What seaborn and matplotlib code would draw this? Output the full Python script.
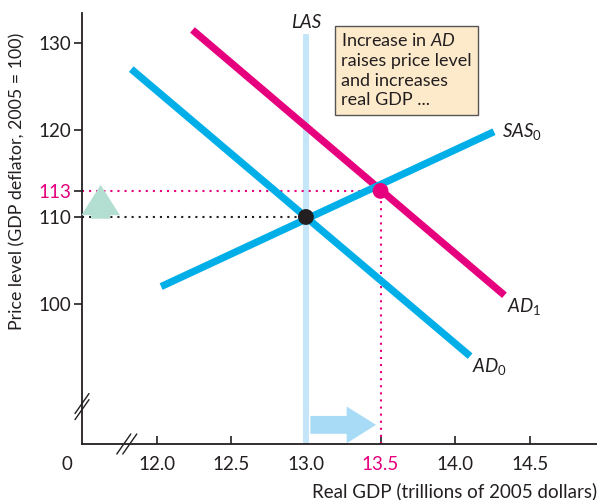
import matplotlib
matplotlib.use('Agg')
import matplotlib.pyplot as plt
import seaborn as sns
import pandas as pd

# ---------------- data ----------------
ad0_gdp = [11.83, 14.10]
ad0_price = [127.0, 94.0]
ad1_gdp = [12.24, 14.33]
ad1_price = [131.5, 101.0]
sas0_gdp = [12.03, 14.26]
sas0_price = [102.0, 119.8]
las_gdp = [13.0, 13.0]
las_price = [83.9, 131.0]
eq_gdp = [13.0, 13.5]
eq_price = [110.0, 113.0]
eq_names = ['E0', 'E1']
xtick_vals = [12.0, 12.5, 13.0, 13.5, 14.0, 14.5]
xtick_labels = ['12.0', '12.5', '13.0', '13.5', '14.0', '14.5']
ytick_vals = [100, 110, 113, 120, 130]
ytick_labels = ['100', '110', '113', '120', '130']

# ---------------- style ----------------
BLUE = '#00aee8'
MAGENTA = '#e6007e'
LAS_C = '#c4e6f8'
DARK = '#231f20'
ARROW_BLUE = '#a8dcf6'
ARROW_GREEN = '#b3dfd3'
BOX_FILL = '#fdeacb'

sns.set_style('ticks')
plt.rcParams['font.family'] = ['Lato', 'DejaVu Sans']
plt.rcParams['mathtext.fontset'] = 'custom'
plt.rcParams['mathtext.rm'] = 'Lato'
plt.rcParams['mathtext.it'] = 'Lato:italic'
plt.rcParams['mathtext.sf'] = 'Lato'
FS = 13.5

fig = plt.figure(figsize=(5.97, 5.0), dpi=100)
ax = fig.add_axes([82 / 597, 56 / 500, 515 / 597, 431 / 500])
XMIN, XMAX = 11.5, 14.95
YMIN, YMAX = 83.9, 133.45
ax.set_xlim(XMIN, XMAX)
ax.set_ylim(YMIN, YMAX)

# LAS
ax.plot(las_gdp, las_price, color=LAS_C, lw=4.3, solid_capstyle='butt', zorder=1)

df = pd.concat([
    pd.DataFrame({'gdp': ad0_gdp, 'price': ad0_price, 'curve': 'AD0'}),
    pd.DataFrame({'gdp': ad1_gdp, 'price': ad1_price, 'curve': 'AD1'}),
    pd.DataFrame({'gdp': sas0_gdp, 'price': sas0_price, 'curve': 'SAS0'}),
])
sns.lineplot(data=df, x='gdp', y='price', hue='curve', units='curve',
             palette={'AD0': BLUE, 'AD1': MAGENTA, 'SAS0': BLUE},
             estimator=None, sort=False, lw=5.2, legend=False,
             solid_capstyle='butt', ax=ax, zorder=3)

# dotted guide lines
dot = (0, (1, 2.4))
ax.plot([XMIN, eq_gdp[0]], [eq_price[0], eq_price[0]], color=DARK, lw=1.5, ls=dot, zorder=2)
ax.plot([XMIN, eq_gdp[1]], [eq_price[1], eq_price[1]], color=MAGENTA, lw=1.5, ls=dot, zorder=2)
ax.plot([eq_gdp[1], eq_gdp[1]], [YMIN, eq_price[1]], color=MAGENTA, lw=1.5, ls=dot, zorder=2)

# equilibrium points
sns.scatterplot(x=eq_gdp, y=eq_price, hue=eq_names,
                palette={'E0': DARK, 'E1': MAGENTA}, s=130,
                edgecolor='none', legend=False, ax=ax, zorder=5)

# arrows
ax.annotate('', xy=(11.625, 113.7), xytext=(11.625, 109.8),
            arrowprops=dict(arrowstyle='simple,head_length=0.95,head_width=1.2,tail_width=0.6',
                            mutation_scale=23, color=ARROW_GREEN, shrinkA=0, shrinkB=0, lw=0))
ax.annotate('', xy=(13.47, 86.1), xytext=(13.03, 86.1),
            arrowprops=dict(arrowstyle='simple,head_length=0.92,head_width=1.15,tail_width=0.56',
                            mutation_scale=23, color=ARROW_BLUE, shrinkA=0, shrinkB=0, lw=0))

# labels
ax.text(13.0, 132.4, 'LAS', ha='center', va='center', fontsize=FS, style='italic', color=DARK)
ax.annotate(r'$\mathit{SAS}_{\mathrm{0}}$', xy=(sas0_gdp[1], sas0_price[1]), xytext=(6, 0),
            textcoords='offset points', ha='left', va='center', fontsize=FS, color=DARK)
ax.annotate(r'$\mathit{AD}_{\mathrm{1}}$', xy=(ad1_gdp[1], ad1_price[1]), xytext=(1.5, -8),
            textcoords='offset points', ha='left', va='center', fontsize=FS, color=DARK)
ax.annotate(r'$\mathit{AD}_{\mathrm{0}}$', xy=(ad0_gdp[1], ad0_price[1]), xytext=(1.5, -7.5),
            textcoords='offset points', ha='left', va='center', fontsize=FS, color=DARK)

ax.text(13.235, 131.3, 'Increase in $\\mathit{AD}$\nraises price level\nand increases\nreal GDP ...',
        ha='left', va='top', fontsize=13, color=DARK, linespacing=1.3,
        bbox=dict(boxstyle='square,pad=0.34', fc=BOX_FILL, ec='#555555', lw=1.0), zorder=6)

# axes styling
for s in ['top', 'right']:
    ax.spines[s].set_visible(False)
for s in ['left', 'bottom']:
    ax.spines[s].set_color(DARK)
    ax.spines[s].set_linewidth(1.3)

ax.set_xticks(xtick_vals)
ax.set_xticklabels(xtick_labels)
ax.set_yticks(ytick_vals)
ax.set_yticklabels(ytick_labels)
ax.tick_params(axis='x', direction='in', length=6, width=1.2, pad=9, labelsize=FS,
               colors=DARK)
ax.tick_params(axis='y', direction='out', length=6, width=1.2, pad=2, labelsize=FS,
               colors=DARK)
for lab in ax.get_xticklabels():
    if lab.get_text() == '13.5':
        lab.set_color(MAGENTA)
for lab in ax.get_yticklabels():
    if lab.get_text() == '113':
        lab.set_color(MAGENTA)

ax.annotate('0', xy=(11.4, 0), xycoords=('data', 'axes fraction'), xytext=(0, -9),
            textcoords='offset points', ha='center', va='top', fontsize=FS, color=DARK)

# axis-break marks
brk_y = 88.2
brk_x = 11.8
for off in (-0.35, 0.35):
    ax.plot([XMIN - 0.047, XMIN + 0.047], [brk_y + off - 1.15, brk_y + off + 1.15],
            color=DARK, lw=1.0, clip_on=False, zorder=7)
for off in (-0.02, 0.02):
    ax.plot([brk_x + off - 0.047, brk_x + off + 0.047], [YMIN - 1.15, YMIN + 1.15],
            color=DARK, lw=1.0, clip_on=False, zorder=7)

ax.set_xlabel('Real GDP (trillions of 2005 dollars)', fontsize=FS, color=DARK)
ax.xaxis.set_label_coords(1.0, -0.088)
ax.xaxis.label.set_horizontalalignment('right')
ax.set_ylabel('Price level (GDP deflator, 2005 = 100)', fontsize=12.8, color=DARK)
ax.yaxis.set_label_coords(-0.11, 0.61)

fig.savefig('out.png', dpi=100)
